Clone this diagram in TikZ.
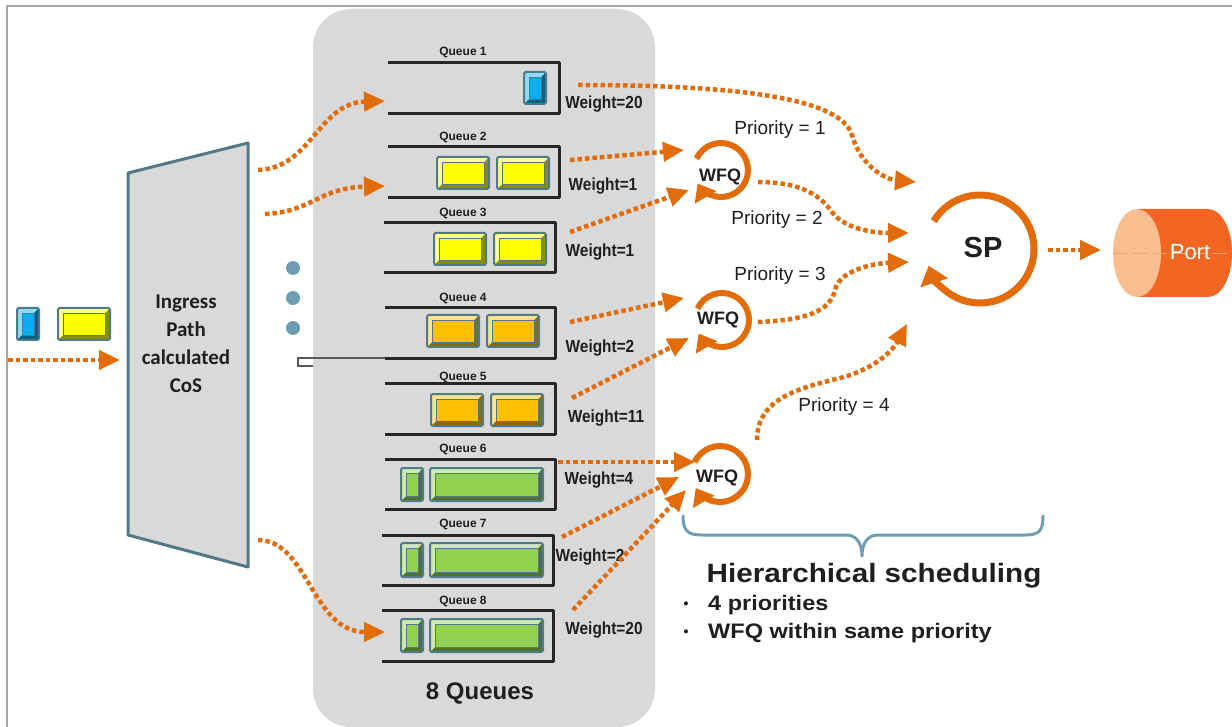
\documentclass[tikz,border=0pt]{standalone}
\usepackage{fontspec}
\setmainfont{Liberation Sans}
\newfontfamily\carlitofont{Carlito}
\newfontfamily\widefont[FakeStretch=1.12]{Liberation Sans}
\newfontfamily\narrowfont[FakeStretch=0.88]{Liberation Sans}
\usetikzlibrary{arrows.meta,calc}
\definecolor{myorange}{HTML}{E36C0A}
\definecolor{panelgray}{HTML}{D9D9D9}
\definecolor{framegray}{HTML}{A6A6A6}
\definecolor{trapline}{HTML}{52788A}
\definecolor{steel}{HTML}{6F9DB3}
\definecolor{pktedge}{HTML}{4E7A8A}
\definecolor{qline}{HTML}{262626}
\definecolor{pblue}{HTML}{00B0F0}
\definecolor{pyellow}{HTML}{FFFF00}
\definecolor{porange}{HTML}{FFC000}
\definecolor{pgreen}{HTML}{92D050}
\definecolor{portbody}{HTML}{F26522}
\definecolor{portface}{HTML}{F8BE8E}
\definecolor{txt}{HTML}{1F1F1F}
\newcommand{\packet}[5]{%
  \fill[#5!55!black] (#1,#2) rectangle (#3,#4);
  \fill[#5!45!white] (#1,#2) -- (#3,#2) -- (#3-5,#2+5) -- (#1+5,#2+5) -- (#1+5,#4-5) -- (#1,#4) -- cycle;
  \fill[#5] (#1+5,#2+5) rectangle (#3-5,#4-5);
  \draw[pktedge, line width=0.8pt] (#1+5,#2+5) rectangle (#3-5,#4-5);
  \draw[pktedge, line width=2pt, rounded corners=1.5pt] (#1,#2) rectangle (#3,#4);
}
\newcommand{\queueshape}[4]{%
  \draw[qbox] (#1,#3) -- (#2,#3) -- (#2,#4) -- (#1,#4);
}
\begin{document}
\begin{tikzpicture}[x=1pt,y=-1pt,
  flow/.style={draw=myorange, line width=4.5pt, dash pattern=on 4.5pt off 3pt,
    -{Triangle[length=21pt,width=19pt]}},
  qbox/.style={draw=qline, line width=3pt, line join=round},
  wfqarc/.style={draw=myorange, line width=6pt, -{Triangle[length=16pt,width=24pt]}},
  sparc/.style={draw=myorange, line width=7pt, -{Triangle[length=18pt,width=28pt]}},
  qlabel/.style={font=\bfseries\fontsize{12}{14}\selectfont, text=txt, inner sep=0pt},
  wlabel/.style={font=\narrowfont\bfseries\fontsize{17.5}{20}\selectfont, text=txt, inner sep=0pt},
  plabel/.style={font=\fontsize{19}{22}\selectfont, text=txt, inner sep=0pt},
  wfqtext/.style={font=\bfseries\fontsize{18}{20}\selectfont, text=txt, inner sep=0pt},
]
\useasboundingbox (0,0) rectangle (1232,727);
\fill[white] (0,0) rectangle (1232,727);
\draw[framegray, line width=1.5pt] (7,727) -- (7,6) -- (1232,6);

% panel
\fill[panelgray, rounded corners=38pt] (313,9) rectangle (655,727);
\node[font=\bfseries\fontsize{24}{26}\selectfont, text=txt] (eightq) at (480,693) {8 Queues};

% small connector artifact
\draw[black!65, line width=1.3pt] (313,366) -- (298,366) -- (298,358) -- (385,358);

% queues
\queueshape{388}{559}{63}{114}
\queueshape{388}{559}{147}{198}
\queueshape{384}{555}{223}{273}
\queueshape{385}{555}{308}{359}
\queueshape{385}{555}{383}{434}
\queueshape{385}{555}{459}{509}
\queueshape{382}{553}{535}{585}
\queueshape{382}{553}{610}{661}

\node[qlabel] (ql1) at (463,52) {Queue 1};
\node[qlabel] (ql2) at (463,137) {Queue 2};
\node[qlabel] (ql3) at (463,213) {Queue 3};
\node[qlabel] (ql4) at (463,298) {Queue 4};
\node[qlabel] (ql5) at (463,377) {Queue 5};
\node[qlabel] (ql6) at (463,449) {Queue 6};
\node[qlabel] (ql7) at (463,524) {Queue 7};
\node[qlabel] (ql8) at (463,601) {Queue 8};

\node[wlabel] (w1l) at (604,104) {Weight=20};
\node[wlabel] (w2l) at (603,186) {Weight=1};
\node[wlabel] (w3l) at (600,252) {Weight=1};
\node[wlabel] (w4l) at (600,348) {Weight=2};
\node[wlabel] (w5l) at (606,418) {Weight=11};
\node[wlabel] (w6l) at (599,480) {Weight=4};
\node[wlabel] (w7l) at (590,557) {Weight=2};
\node[wlabel] (w8l) at (604,630) {Weight=20};

% packets
\packet{524}{72}{546}{104}{pblue}
\packet{437}{157}{489}{189}{pyellow}
\packet{497}{157}{549}{189}{pyellow}
\packet{434}{233}{486}{265}{pyellow}
\packet{494}{233}{546}{265}{pyellow}
\packet{427}{315}{479}{347}{porange}
\packet{487}{315}{539}{347}{porange}
\packet{431}{394}{483}{426}{porange}
\packet{491}{394}{543}{426}{porange}
\packet{401}{468}{423}{501}{pgreen}
\packet{430}{468}{543}{501}{pgreen}
\packet{401}{543}{423}{577}{pgreen}
\packet{430}{543}{543}{577}{pgreen}
\packet{401}{619}{423}{652}{pgreen}
\packet{430}{619}{543}{652}{pgreen}
\packet{17}{308}{39}{340}{pblue}
\packet{58}{308}{110}{340}{pyellow}

% ingress trapezoid
\draw[trapline, fill=panelgray, line width=3pt, line join=round] (128,173) -- (248,143) -- (248,567) -- (128,535) -- cycle;
\node[font=\carlitofont\bfseries\fontsize{21}{28}\selectfont, text=txt, align=center] (ingress) at (186,344) {Ingress\\Path\\calculated\\CoS};

% dots
\fill[steel] (293,268) circle[radius=7];
\fill[steel] (293,298) circle[radius=7];
\fill[steel] (293,328) circle[radius=7];

% WFQ and SP
\coordinate (c1) at (721,170);
\coordinate (c2) at (722,320);
\coordinate (c3) at (720,474);
\coordinate (csp) at (980,249);
\draw[wfqarc] ($(c1)+(-155:27)$) arc[start angle=-155, end angle=150, radius=27];
\draw[wfqarc] ($(c2)+(-155:27)$) arc[start angle=-155, end angle=150, radius=27];
\draw[wfqarc] ($(c3)+(-155:28)$) arc[start angle=-155, end angle=150, radius=28];
\draw[sparc] ($(csp)+(-149:54)$) arc[start angle=-149, end angle=162, radius=54];
\node[wfqtext] (wfq1) at (720,177) {WFQ};
\node[wfqtext] (wfq2) at (718,320) {WFQ};
\node[wfqtext] (wfq3) at (717,478) {WFQ};
\node[font=\bfseries\fontsize{29}{30}\selectfont, text=txt, inner sep=0pt] (sp) at (983,248) {SP};

% priority labels
\node[plabel] (p1) at (780,130) {Priority = 1};
\node[plabel] (p2) at (777,220) {Priority = 2};
\node[plabel] (p3) at (780,276) {Priority = 3};
\node[plabel] (p4) at (844,407) {Priority = 4};

% port
\fill[portbody] (1137,209) -- (1208,209) arc[start angle=-90, end angle=90, x radius=24, y radius=44] -- (1137,297) -- cycle;
\fill[portface] (1137,253) ellipse[x radius=24, y radius=44];
\draw[portface!70!portbody, line width=0.8pt, dash pattern=on 14pt off 6pt] (1113,253) -- (1232,253);
\node[font=\fontsize{22}{24}\selectfont, text=white, inner sep=0pt] (port) at (1190,252) {Port};

% coordinates for connectors
\coordinate (in0) at (8,360);   \coordinate (in1) at (120,360);
\coordinate (t1) at (258,170);  \coordinate (q1in) at (385,101);
\coordinate (t2) at (265,214);  \coordinate (q2in) at (385,186);
\coordinate (t8) at (258,540);  \coordinate (q8in) at (385,632);
\coordinate (q1o) at (578,85);  \coordinate (sp1) at (916,182);
\coordinate (q2o) at (570,160); \coordinate (w1a) at (684,150);
\coordinate (q3o) at (570,232); \coordinate (w1b) at (689,190);
\coordinate (w1o) at (758,182); \coordinate (sp2) at (909,233);
\coordinate (q4o) at (570,322); \coordinate (w2a) at (684,298);
\coordinate (q5o) at (572,398); \coordinate (w2b) at (689,338);
\coordinate (w2o) at (758,322); \coordinate (sp3) at (909,262);
\coordinate (q6o) at (558,462); \coordinate (w3a) at (695,462);
\coordinate (q7o) at (562,537); \coordinate (w3b) at (679,477);
\coordinate (q8o) at (573,610); \coordinate (w3c) at (686,490);
\coordinate (w3o) at (757,440); \coordinate (sp4) at (907,324);
\coordinate (spo) at (1048,250); \coordinate (porti) at (1101,250);

\draw[flow] (in0) -- (in1);
\draw[flow] (t1) .. controls (312,168) and (318,103) .. (q1in);
\draw[flow] (t2) .. controls (312,212) and (318,188) .. (q2in);
\draw[flow] (t8) .. controls (308,540) and (312,632) .. (q8in);

\draw[flow] (q1o) .. controls (720,85) and (840,95) .. (852,135) .. controls (862,170) and (890,180) .. (sp1);
\draw[flow] (q2o) -- (w1a);
\draw[flow] (q3o) -- (w1b);
\draw[flow] (w1o) .. controls (805,182) and (822,198) .. (832,212) .. controls (846,231) and (880,233) .. (sp2);
\draw[flow] (q4o) -- (w2a);
\draw[flow] (q5o) -- (w2b);
\draw[flow] (w2o) .. controls (805,320) and (830,312) .. (835,290) .. controls (840,268) and (880,263) .. (sp3);
\draw[flow] (q6o) -- (w3a);
\draw[flow] (q7o) -- (w3b);
\draw[flow] (q8o) -- (w3c);
\draw[flow] (w3o) .. controls (757,398) and (800,388) .. (840,378) .. controls (872,370) and (892,352) .. (sp4);
\draw[flow] (spo) -- (porti);

% brace
\draw[steel, line width=3pt, line cap=round, line join=round] (683,516) .. controls (683,531) and (688,535) .. (702,535) -- (846,535) .. controls (857,535) and (862,544) .. (862,556) .. controls (862,544) and (867,535) .. (878,535) -- (1025,535) .. controls (1039,535) and (1043,531) .. (1043,516);

\node[font=\widefont\bfseries\fontsize{26.5}{28}\selectfont, text=txt, inner sep=0pt] (hs) at (874,576) {Hierarchical scheduling};
\node[font=\bfseries\fontsize{14}{16}\selectfont, text=txt, inner sep=0pt] (b1) at (686,605) {\textbullet};
\node[font=\bfseries\fontsize{14}{16}\selectfont, text=txt, inner sep=0pt] (b2) at (686,633) {\textbullet};
\node[font=\widefont\bfseries\fontsize{21}{24}\selectfont, text=txt, inner sep=0pt, anchor=west] (l1) at (708,605) {4 priorities};
\node[font=\widefont\bfseries\fontsize{21}{24}\selectfont, text=txt, inner sep=0pt, anchor=west] (l2) at (708,633) {WFQ within same priority};
\end{tikzpicture}
\end{document}
